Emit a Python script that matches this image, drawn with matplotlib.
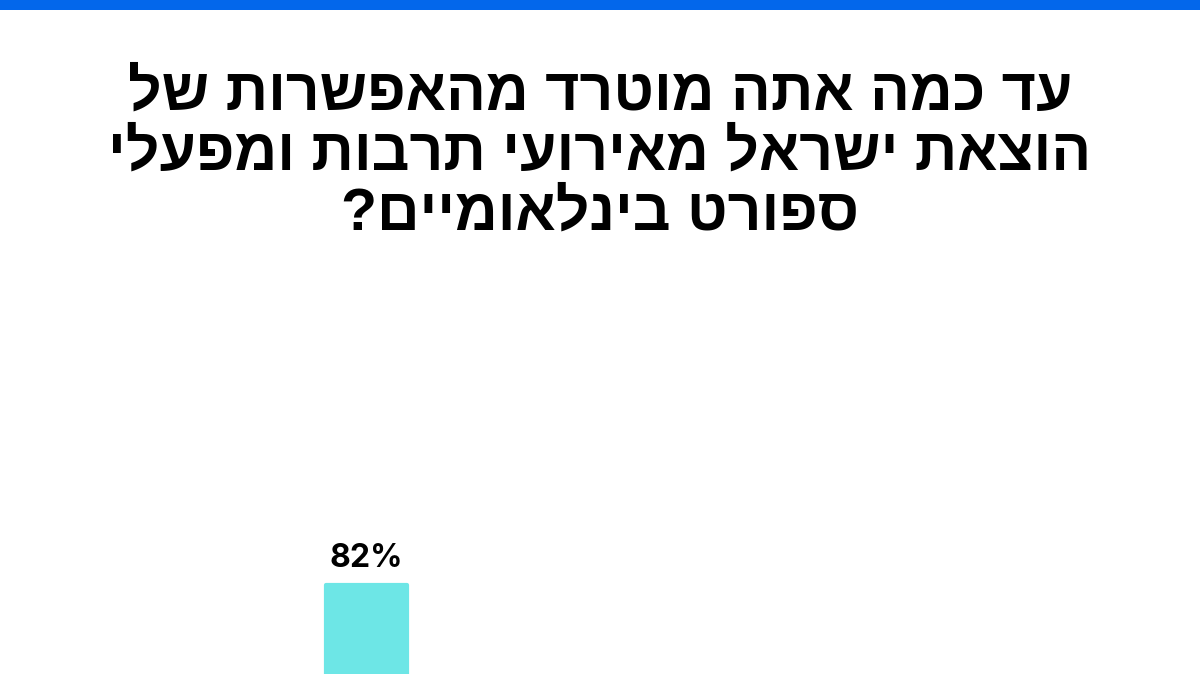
import matplotlib

matplotlib.use("Agg")
import matplotlib.pyplot as plt
from matplotlib.patches import Rectangle

# Hebrew question, logical order; reversed for display since matplotlib has no bidi
title_lines = [
    "עד כמה אתה מוטרד מהאפשרות של",
    "הוצאת ישראל מאירועי תרבות ומפעלי",
    "ספורט בינלאומיים?",
]
categories = ["a"]
values = [82]
labels = ["82%"]

BAR_COLOR = "#6DE6E6"
TOP_BLUE = "#0367EB"

fig = plt.figure(figsize=(12, 6.74), dpi=100)
fig.patch.set_facecolor("white")

# blue strip across the top
fig.add_artist(Rectangle((0, 1 - 10 / 674), 1, 10 / 674, transform=fig.transFigure,
                         facecolor=TOP_BLUE, edgecolor="none"))

# title
for i, line in enumerate(title_lines):
    fig.text(0.5, 1 - (110 + 60 * i) / 674, line[::-1], ha="center", va="baseline",
             fontsize=42.5, fontweight="bold", family=["Liberation Sans", "DejaVu Sans"],
             color="black")

# plot area runs below the visible canvas
ax = fig.add_axes([0, -0.335, 1, 0.57])
ax.set_xlim(-3.532, 8.034)
ax.set_ylim(0, 100)
ax.axis("off")

bars = ax.bar(range(len(categories)), values, width=0.78, color=BAR_COLOR,
              edgecolor=BAR_COLOR, linewidth=3, joinstyle="round")
for rect, lab in zip(bars, labels):
    ax.annotate(lab, (rect.get_x() + rect.get_width() / 2, rect.get_height()),
                xytext=(0, 8), textcoords="offset points", ha="center", va="bottom",
                fontsize=23, fontweight="bold", family=["Inter", "DejaVu Sans"],
                annotation_clip=False)

fig.savefig("out.png", dpi=100)
